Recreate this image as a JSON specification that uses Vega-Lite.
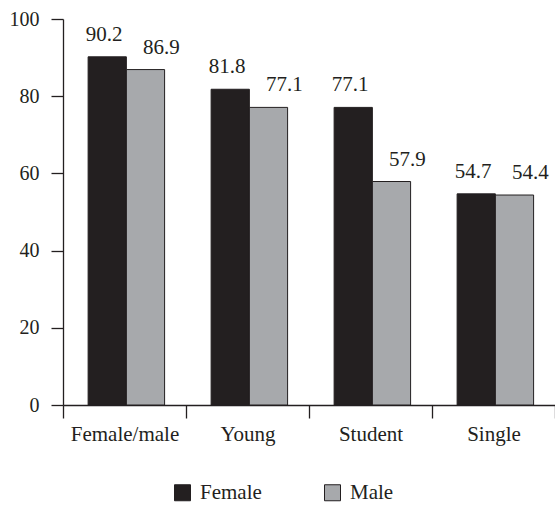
{
  "$schema": "https://vega.github.io/schema/vega-lite/v6.json",
  "autosize": {"type": "none"},
  "padding": {"left": 63, "top": 19, "right": 0, "bottom": 100},
  "width": 492,
  "height": 386,
  "background": "white",
  "config": {
    "view": {"stroke": null},
    "font": "Liberation Serif",
    "axis": {
      "domainColor": "#231f20",
      "domainWidth": 1.3,
      "tickColor": "#231f20",
      "tickWidth": 1.3,
      "tickSize": 12,
      "labelFont": "Liberation Serif",
      "labelFontSize": 20,
      "labelColor": "#231f20",
      "grid": false,
      "title": null
    }
  },
  "data": {
    "values": [
      {"group": "Female/male", "sex": "Female", "value": 90.2},
      {"group": "Female/male", "sex": "Male", "value": 86.9},
      {"group": "Young", "sex": "Female", "value": 81.8},
      {"group": "Young", "sex": "Male", "value": 77.1},
      {"group": "Student", "sex": "Female", "value": 77.1},
      {"group": "Student", "sex": "Male", "value": 57.9},
      {"group": "Single", "sex": "Female", "value": 54.7},
      {"group": "Single", "sex": "Male", "value": 54.4}
    ]
  },
  "encoding": {
    "x": {
      "field": "group",
      "type": "nominal",
      "sort": ["Female/male", "Young", "Student", "Single"],
      "scale": {"paddingInner": 0, "paddingOuter": 0},
      "axis": {
        "labelAngle": 0,
        "labelFontSize": 21,
        "tickBand": "extent",
        "tickSize": 13,
        "labelPadding": 5,
        "labelBaseline": "top"
      }
    },
    "xOffset": {
      "field": "sex",
      "type": "nominal",
      "scale": {"paddingInner": 0, "paddingOuter": 0.608, "align": 0.54}
    },
    "y": {
      "field": "value",
      "type": "quantitative",
      "scale": {"domain": [0, 100], "nice": false},
      "axis": {"values": [0, 20, 40, 60, 80, 100], "labelPadding": 12}
    }
  },
  "layer": [
    {
      "mark": {"type": "bar", "stroke": "#231f20", "strokeWidth": 1},
      "encoding": {
        "color": {
          "field": "sex",
          "type": "nominal",
          "scale": {"domain": ["Female", "Male"], "range": ["#231f20", "#a7a9ac"]},
          "legend": {
            "orient": "none",
            "direction": "horizontal",
            "legendX": 109,
            "legendY": 463,
            "title": null,
            "symbolType": "square",
            "symbolSize": 256,
            "symbolStrokeColor": "#231f20",
            "symbolStrokeWidth": 1,
            "symbolOpacity": 1,
            "labelFont": "Liberation Serif",
            "labelFontSize": 21,
            "labelColor": "#231f20",
            "labelOffset": 7,
            "columnPadding": 60
          }
        }
      }
    },
    {
      "transform": [{"filter": "datum.sex === 'Female'"}],
      "mark": {"type": "text", "font": "Liberation Serif", "fontSize": 21, "color": "#231f20", "baseline": "alphabetic", "dy": -16, "dx": -3},
      "encoding": {"text": {"field": "value", "type": "quantitative", "format": ".1f"}}
    },
    {
      "transform": [{"filter": "datum.sex === 'Male'"}],
      "mark": {"type": "text", "font": "Liberation Serif", "fontSize": 21, "color": "#231f20", "baseline": "alphabetic", "dy": -16, "dx": 16},
      "encoding": {"text": {"field": "value", "type": "quantitative", "format": ".1f"}}
    }
  ]
}
